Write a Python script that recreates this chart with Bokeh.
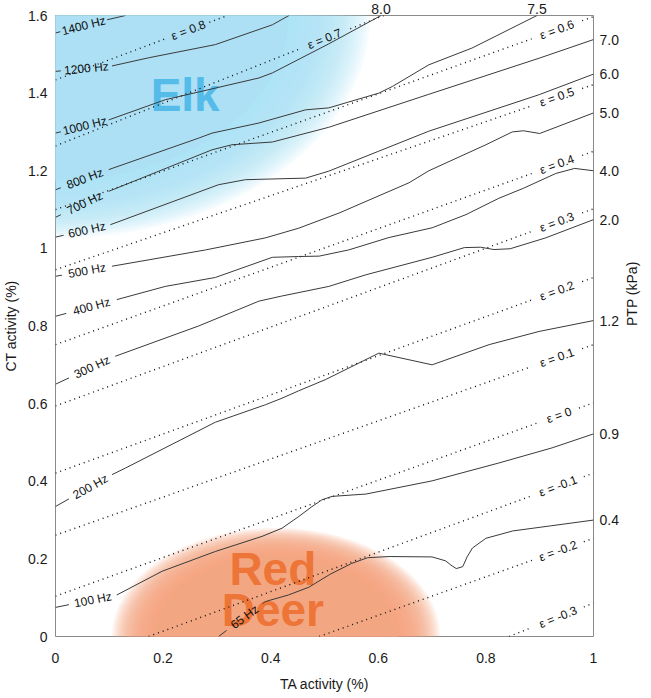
import math
import numpy as np
from bokeh.plotting import figure
from bokeh.models import LinearAxis, FixedTicker
from bokeh.embed import file_html
from bokeh.resources import INLINE
from bokeh.core.properties import value

# ---------------- data ----------------
x_ticks = [0, 0.2, 0.4, 0.6, 0.8, 1]
x_tick_labels = ["0", "0.2", "0.4", "0.6", "0.8", "1"]
y_ticks = [0, 0.2, 0.4, 0.6, 0.8, 1, 1.2, 1.4, 1.6]
y_tick_labels = ["0", "0.2", "0.4", "0.6", "0.8", "1", "1.2", "1.4", "1.6"]

# iso-frequency contours: TA activity (x), CT activity (y)
hz_names = ["1400 Hz", "1200 Hz", "1000 Hz", "800 Hz", "700 Hz", "600 Hz",
            "500 Hz", "400 Hz", "300 Hz", "200 Hz", "100 Hz", "65 Hz"]
f1400_x = [0, 0.096, 0.13]
f1400_y = [1.555, 1.589, 1.6]
f1200_x = [0, 0.105, 0.173, 0.297, 0.403, 0.434]
f1200_y = [1.456, 1.47, 1.491, 1.525, 1.576, 1.6]
f1000_x = [0, 0.099, 0.204, 0.378, 0.403, 0.508, 0.605]
f1000_y = [1.297, 1.331, 1.383, 1.439, 1.452, 1.527, 1.6]
f800_x = [0, 0.099, 0.266, 0.291, 0.378, 0.465, 0.508, 0.601, 0.626, 0.694, 0.774, 0.895]
f800_y = [1.151, 1.203, 1.284, 1.297, 1.323, 1.357, 1.362, 1.40, 1.417, 1.473, 1.516, 1.6]
f700_x = [0, 0.099, 0.291, 0.328, 0.403, 0.508, 0.694, 0.899, 1.0]
f700_y = [1.08, 1.147, 1.254, 1.267, 1.274, 1.312, 1.397, 1.49, 1.538]
f600_x = [0, 0.102, 0.303, 0.353, 0.465, 0.508, 0.60, 0.694, 0.899, 1.0]
f600_y = [1.029, 1.061, 1.164, 1.177, 1.181, 1.199, 1.25, 1.302, 1.396, 1.449]
f500_x = [0, 0.105, 0.279, 0.39, 0.452, 0.527, 0.657, 0.694, 0.8, 0.849, 0.87, 0.9, 1.0]
f500_y = [0.928, 0.954, 0.996, 1.027, 1.052, 1.091, 1.169, 1.20, 1.267, 1.30, 1.303, 1.296, 1.349]
f400_x = [0, 0.114, 0.204, 0.297, 0.403, 0.452, 0.49, 0.545, 0.62, 0.70, 0.763, 0.824, 0.87, 0.93, 0.965, 1.0]
f400_y = [0.825, 0.868, 0.902, 0.925, 0.977, 0.979, 0.98, 0.996, 1.028, 1.053, 1.087, 1.129, 1.155, 1.193, 1.206, 1.2]
f300_x = [0, 0.111, 0.266, 0.378, 0.42, 0.508, 0.577, 0.70, 0.76, 0.79, 0.815, 0.845, 0.911, 1.0]
f300_y = [0.65, 0.722, 0.80, 0.864, 0.877, 0.902, 0.932, 0.977, 1.002, 1.003, 0.997, 0.999, 1.027, 1.074]
f200_x = [0, 0.105, 0.13, 0.297, 0.39, 0.421, 0.452, 0.502, 0.601, 0.70, 0.806, 0.899, 1.0]
f200_y = [0.335, 0.417, 0.434, 0.552, 0.597, 0.614, 0.633, 0.662, 0.730, 0.70, 0.752, 0.786, 0.814]
f100_x = [0, 0.114, 0.198, 0.297, 0.384, 0.421, 0.452, 0.475, 0.495, 0.514, 0.577, 0.70, 0.824, 0.923, 1.0]
f100_y = [0.075, 0.107, 0.168, 0.219, 0.258, 0.279, 0.309, 0.333, 0.352, 0.361, 0.367, 0.401, 0.447, 0.486, 0.522]
f65_x = [0.303, 0.39, 0.433, 0.471, 0.51, 0.55, 0.58, 0.62, 0.70, 0.725, 0.735, 0.745, 0.757, 0.765, 0.775, 0.80, 0.85, 0.92, 1.0]
f65_y = [0.0, 0.09, 0.107, 0.127, 0.16, 0.188, 0.203, 0.206, 0.205, 0.195, 0.184, 0.175, 0.18, 0.205, 0.228, 0.253, 0.272, 0.285, 0.30]

# label gaps along each frequency contour (TA range hidden behind the label)
hz_gap_lo = [0.009, 0.01, 0.01, 0.01, 0.01, 0.015, 0.012, 0.02, 0.025, 0.025, 0.025, 0.318]
hz_gap_hi = [0.096, 0.105, 0.099, 0.099, 0.099, 0.102, 0.105, 0.114, 0.111, 0.105, 0.114, 0.385]

# iso-strain lines (epsilon), start and end points
eps_names = ["ε = 0.8", "ε = 0.7", "ε = 0.6", "ε = 0.5", "ε = 0.4", "ε = 0.3",
             "ε = 0.2", "ε = 0.1", "ε = 0", "ε = -0.1", "ε = -0.2", "ε = -0.3"]
eps_x0 = [0, 0, 0, 0, 0, 0, 0, 0, 0, 0.173, 0.49, 0.843]
eps_y0 = [1.434, 1.264, 1.10, 0.945, 0.752, 0.594, 0.421, 0.261, 0.104, 0, 0, 0]
eps_x1 = [0.32, 0.61, 1, 1, 1, 1, 1, 1, 1, 1, 1, 1]
eps_y1 = [1.6, 1.6, 1.597, 1.422, 1.25, 1.102, 0.925, 0.752, 0.602, 0.421, 0.253, 0.086]
eps_label_x = [0.247, 0.50, 0.932, 0.932, 0.932, 0.932, 0.932, 0.932, 0.936, 0.934, 0.934, 0.934]
eps_gap_half = [0.039, 0.048, 0.047, 0.047, 0.047, 0.047, 0.047, 0.047, 0.037, 0.048, 0.048, 0.048]

# phonation threshold pressure labels (right axis and top edge)
ptp_right_labels = ["7.0", "6.0", "5.0", "4.0", "2.0", "1.2", "0.9", "0.4"]
ptp_top_labels = ["8.0", "7.5"]

# ---------------- figure ----------------
FW, FH = 538, 621
p = figure(frame_width=FW, frame_height=FH, x_range=(0, 1), y_range=(0, 1.6),
           output_backend="svg", toolbar_location=None,
           min_border_left=49, min_border_top=0, min_border_right=20, min_border_bottom=20)
p.grid.visible = False
p.outline_line_color = "#8a8a8a"
p.outline_line_width = 1
p.background_fill_color = "white"
p.border_fill_color = "white"
bottom = p.below[0]
left = p.left[0]

# soft shaded regions
def blob(cx, cy, w, h, color, inner=0.74, n=26, a=0.11):
    for s in np.linspace(1.0, inner, n):
        p.ellipse(x=[cx], y=[cy], width=[w * s], height=[h * s],
                  fill_color=color, fill_alpha=a, line_color=None)
    p.ellipse(x=[cx], y=[cy], width=[w * inner], height=[h * inner],
              fill_color=color, fill_alpha=1.0, line_color=None)

blob(0.0, 1.6, 1.17, 1.15, "#ade0f5")
blob(0.41, 0.0, 0.61, 0.56, "#f2a782")

font = value("Liberation Sans")
p.text(x=[0.241], y=[1.394], text=["Elk"], text_font=font, text_font_size="46px",
       text_font_style="bold", text_color="#55bce9", text_align="center", text_baseline="middle")
p.text(x=[0.404, 0.404], y=[0.174, 0.069], text=["Red", "Deer"], text_font=font,
       text_font_size="46px", text_font_style="bold", text_color="#ee7538",
       text_align="center", text_baseline="middle")

sx = FW / 1.0
sy = FH / 1.6

def cut(xs, ys, lo, hi):
    xs = np.asarray(xs, float)
    ys = np.asarray(ys, float)
    ylo = np.interp(lo, xs, ys)
    yhi = np.interp(hi, xs, ys)
    nx = np.concatenate([xs[xs < lo], [lo, np.nan, hi], xs[xs > hi]])
    ny = np.concatenate([ys[xs < lo], [ylo, np.nan, yhi], ys[xs > hi]])
    return nx, ny, ylo, yhi

# epsilon lines
el_x, el_y, el_a = [], [], []
for i in range(len(eps_names)):
    xs = [eps_x0[i], eps_x1[i]]
    ys = [eps_y0[i], eps_y1[i]]
    c = eps_label_x[i]
    lo, hi = c - eps_gap_half[i], c + eps_gap_half[i]
    nx, ny, ylo, yhi = cut(xs, ys, lo, hi)
    p.line(nx, ny, line_color="#111111", line_width=1.4, line_dash="1 4")
    el_x.append(c)
    el_y.append(float(np.interp(c, xs, ys)))
    el_a.append(math.atan2((yhi - ylo) * sy, (hi - lo) * sx))

# frequency contours
hz_x = [f1400_x, f1200_x, f1000_x, f800_x, f700_x, f600_x, f500_x, f400_x, f300_x, f200_x, f100_x, f65_x]
hz_y = [f1400_y, f1200_y, f1000_y, f800_y, f700_y, f600_y, f500_y, f400_y, f300_y, f200_y, f100_y, f65_y]
hl_x, hl_y, hl_a = [], [], []
for i in range(len(hz_names)):
    lo, hi = hz_gap_lo[i], hz_gap_hi[i]
    nx, ny, ylo, yhi = cut(hz_x[i], hz_y[i], lo, hi)
    p.line(nx, ny, line_color="#3a3a3a", line_width=1.0)
    c = 0.5 * (lo + hi)
    hl_x.append(c)
    hl_y.append(0.5 * (ylo + yhi))
    hl_a.append(math.atan2((yhi - ylo) * sy, (hi - lo) * sx))

p.text(x=el_x, y=el_y, text=eps_names, angle=el_a, text_font=font, text_font_size="12px",
       text_color="#111111", text_align="center", text_baseline="middle")
p.text(x=hl_x, y=hl_y, text=hz_names, angle=hl_a, text_font=font, text_font_size="12px",
       text_color="#111111", text_align="center", text_baseline="middle")

# axes
bottom.ticker = FixedTicker(ticks=x_ticks)
bottom.major_label_overrides = dict(zip(x_ticks, x_tick_labels))
bottom.axis_label = "TA activity (%)"
left.ticker = FixedTicker(ticks=y_ticks)
left.major_label_overrides = dict(zip(y_ticks, y_tick_labels))
left.axis_label = "CT activity (%)"

right_pos = [f700_y[-1], f600_y[-1], f500_y[-1], f400_y[-1], f300_y[-1], f200_y[-1], f100_y[-1], f65_y[-1]]
right = LinearAxis(ticker=FixedTicker(ticks=right_pos),
                   major_label_overrides=dict(zip(right_pos, ptp_right_labels)),
                   axis_label="PTP (kPa)")
right.axis_label_orientation = math.pi / 2
p.add_layout(right, "right")

# PTP values where contours leave through the top edge
top_pos = [f1000_x[-1], f800_x[-1]]
top = LinearAxis(ticker=FixedTicker(ticks=top_pos),
                 major_label_overrides=dict(zip(top_pos, ptp_top_labels)))
p.add_layout(top, "above")

for ax in [bottom, left, right, top]:
    ax.major_tick_line_color = None
    ax.minor_tick_line_color = None
    ax.major_tick_out = 0
    ax.major_tick_in = 0
    ax.minor_tick_out = 0
    ax.minor_tick_in = 0
    ax.axis_line_color = None
    ax.major_label_text_font = "Liberation Sans"
    ax.major_label_text_font_size = "14px"
    ax.major_label_text_color = "#1a1a1a"
    ax.axis_label_text_font = "Liberation Sans"
    ax.axis_label_text_font_size = "14px"
    ax.axis_label_text_font_style = "normal"
    ax.axis_label_text_color = "#1a1a1a"

bottom.major_label_standoff = 16
bottom.axis_label_standoff = 10
left.major_label_standoff = 8
left.axis_label_standoff = 6
right.major_label_standoff = 6
right.axis_label_standoff = 10
top.major_label_standoff = 2

open("out.html", "w").write(file_html(p, INLINE))
